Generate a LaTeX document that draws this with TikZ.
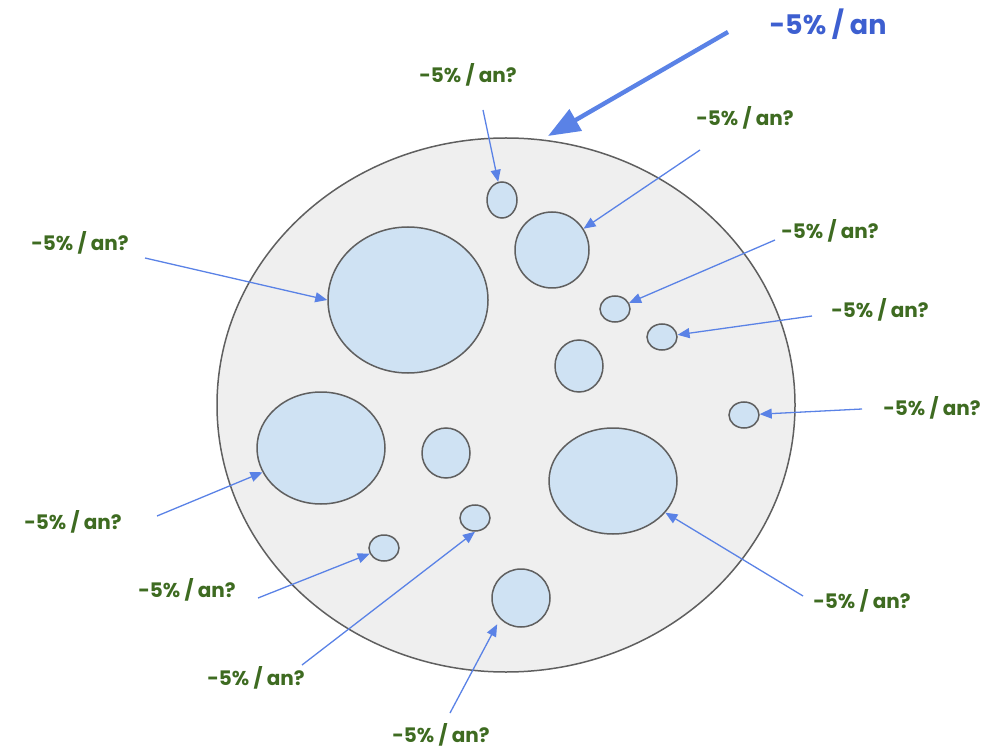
\documentclass[tikz,border=0pt]{standalone}
\usepackage{fontspec}
\setmainfont{Poppins}
\usetikzlibrary{arrows.meta, shapes.geometric}

\definecolor{discfill}{HTML}{EFEFEF}
\definecolor{edgegray}{HTML}{5F5F5F}
\definecolor{holefill}{HTML}{CFE2F3}
\definecolor{rategreen}{HTML}{3E6B21}
\definecolor{rateblue}{HTML}{3D5FD0}
\definecolor{arrowblue}{HTML}{5A82E6}

\tikzset{
  hole/.style 2 args={ellipse, draw=edgegray, fill=holefill, line width=0.75pt,
    minimum width=#1pt, minimum height=#2pt, inner sep=0pt},
  rate/.style={text=rategreen, font=\bfseries\fontsize{10}{12}\selectfont},
  arr/.style={draw=arrowblue, line width=0.65pt, -{Triangle[length=6pt,width=5pt]}},
}

\begin{document}
\begin{tikzpicture}[x=0.5pt, y=-0.5pt]
\useasboundingbox (0,0) rectangle (984,748);

% the big disc
\node[ellipse, draw=edgegray, fill=discfill, line width=0.75pt,
  minimum width=289pt, minimum height=267pt, inner sep=0pt] (disc) at (506,405) {};

% holes inside the disc
\node[hole={15}{18}] (h1) at (502,200) {};
\node[hole={37}{38}] (h2) at (552,250) {};
\node[hole={80}{73}] (h3) at (408,300) {};
\node[hole={15}{13}] (h4) at (615,309) {};
\node[hole={15}{13}] (h5) at (662,337) {};
\node[hole={24}{26}] (h6) at (579,366) {};
\node[hole={15}{13}] (h7) at (744,415) {};
\node[hole={64}{56}] (h8) at (321,448) {};
\node[hole={24}{25}] (h9) at (446,453) {};
\node[hole={64}{53}] (h10) at (613,481) {};
\node[hole={15}{13}] (h11) at (475,518) {};
\node[hole={15}{13}] (h12) at (384,548) {};
\node[hole={29}{29}] (h13) at (521,598) {};

% labels
\node[text=rateblue, font=\bfseries\fontsize{13.5}{16}\selectfont] (total) at (828,24) {-5\% / an};
\node[rate] (l1) at (468,75) {-5\% / an?};
\node[rate] (l2) at (745,118) {-5\% / an?};
\node[rate] (l3) at (830,231) {-5\% / an?};
\node[rate] (l4) at (880,310) {-5\% / an?};
\node[rate] (l5) at (932,408) {-5\% / an?};
\node[rate] (l6) at (80,243) {-5\% / an?};
\node[rate] (l7) at (73,522) {-5\% / an?};
\node[rate] (l8) at (187,590) {-5\% / an?};
\node[rate] (l9) at (862,601) {-5\% / an?};
\node[rate] (l10) at (256,678) {-5\% / an?};
\node[rate] (l11) at (441,735) {-5\% / an?};

% arrow tails
\coordinate (t0) at (728,32);
\coordinate (tip0) at (548,136);
\coordinate (t1) at (483,110);
\coordinate (t2) at (700,150);
\coordinate (t3) at (775,240);
\coordinate (t4) at (812,316);
\coordinate (t5) at (862,409);
\coordinate (t6) at (145,258);
\coordinate (t7) at (157,516);
\coordinate (t8) at (258,598);
\coordinate (t9) at (803,596);
\coordinate (t10) at (302,665);
\coordinate (t11) at (450,713);

% arrows
\draw[draw=arrowblue, line width=2.2pt, -{Triangle[length=16pt,width=12pt]}] (t0) -- (tip0);
\draw[arr] (t1) -- (h1);
\draw[arr] (t2) -- (h2);
\draw[arr] (t3) -- (h4);
\draw[arr] (t4) -- (h5);
\draw[arr] (t5) -- (h7);
\draw[arr] (t6) -- (h3.west);
\draw[arr] (t7) -- (h8);
\draw[arr] (t8) -- (h12);
\draw[arr] (t9) -- (h10);
\draw[arr] (t10) -- (h11.south);
\draw[arr, shorten >=3pt] (t11) -- (h13.south west);
\end{tikzpicture}
\end{document}
